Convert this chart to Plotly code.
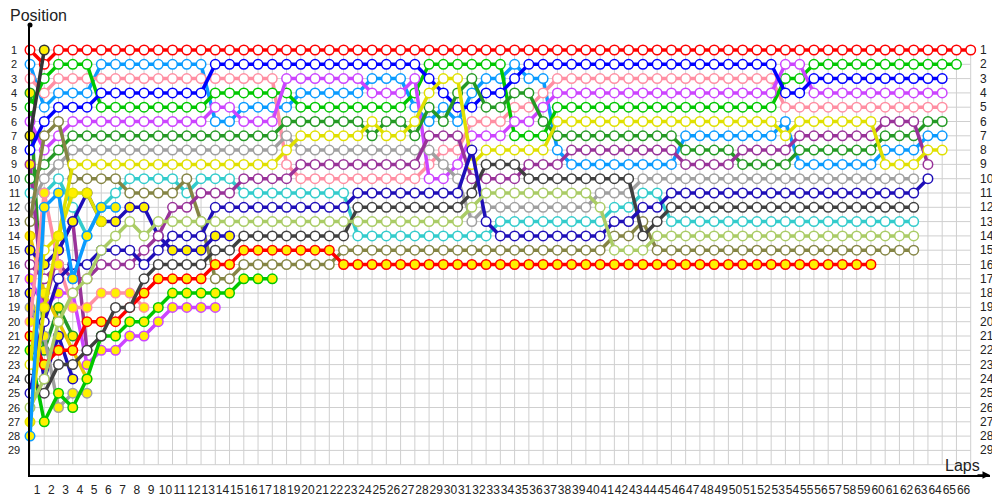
import plotly.graph_objects as go

# ---------------- data (position per lap, index = lap number starting at 0) ----------------
lap_labels = [str(k) for k in range(1, 67)]
position_labels = list(range(1, 30))

red = [1, 2, 1, 1, 1, 1, 1, 1, 1, 1,
       1, 1, 1, 1, 1, 1, 1, 1, 1, 1,
       1, 1, 1, 1, 1, 1, 1, 1, 1, 1,
       1, 1, 1, 1, 1, 1, 1, 1, 1, 1,
       1, 1, 1, 1, 1, 1, 1, 1, 1, 1,
       1, 1, 1, 1, 1, 1, 1, 1, 1, 1,
       1, 1, 1, 1, 1, 1, 1]
light_blue = [2, 5, 4, 4, 4, 2, 2, 2, 2, 2,
              2, 2, 2, 6, 6, 5, 5, 5, 5, 4,
              4, 4, 4, 4, 3, 3, 3, 5, 6, 5,
              6, 4, 3, 3, 2, 3, 3, 8, 9, 9,
              9, 9, 9, 9, 9, 9, 7, 7, 7, 7,
              7, 7, 7, 6, 9, 9, 9, 9, 9, 9,
              8, 8, 8, 7, 7]
pink = [3, 4, 3, 3, 3, 3, 3, 3, 3, 3,
        3, 3, 3, 3, 3, 3, 3, 3, 9, 10,
        10, 10, 10, 10, 10, 10, 10, 10, 9, 8,
        8, 6, 6, 6, 5, 5, 4, 3, 3, 3,
        3, 3, 3, 3, 3, 3, 3, 3, 3, 3,
        3, 3, 3, 5, 5, 5, 5, 5, 5, 5,
        5, 5, 5, 5, 5]
dark_green_y = [4, 22, 19, 21]
green = [5, 3, 2, 2, 2, 5, 5, 5, 5, 5,
         5, 5, 5, 4, 4, 4, 4, 4, 4, 5,
         5, 5, 5, 5, 5, 5, 5, 4, 2, 2,
         2, 2, 2, 2, 7, 7, 7, 5, 5, 5,
         5, 5, 5, 5, 5, 5, 5, 5, 5, 5,
         5, 5, 5, 3, 3, 2, 2, 2, 2, 2,
         2, 2, 2, 2, 2, 2]
magenta = [6, 8, 7, 6, 6, 6, 6, 6, 6, 6,
           6, 6, 6, 5, 5, 6, 6, 6, 3, 3,
           3, 3, 3, 3, 4, 4, 4, 3, 10, 10,
           9, 7, 7, 7, 6, 6, 5, 4, 4, 4,
           4, 4, 4, 4, 4, 4, 4, 4, 4, 4,
           4, 4, 4, 2, 2, 4, 4, 4, 4, 4,
           4, 4, 4, 4, 4]
black_y = [7, 1]
blue = [8, 6, 5, 5, 5, 4, 4, 4, 4, 4,
        4, 4, 4, 2, 2, 2, 2, 2, 2, 2,
        2, 2, 2, 2, 2, 2, 2, 2, 3, 4,
        5, 5, 4, 4, 3, 2, 2, 2, 2, 2,
        2, 2, 2, 2, 2, 2, 2, 2, 2, 2,
        2, 2, 2, 4, 4, 3, 3, 3, 3, 3,
        3, 3, 3, 3, 3]
purple_y = [9, 19, 15, 13, 22]
dark_green = [10, 9, 8, 7, 7, 7, 7, 7, 7, 7,
              7, 7, 7, 7, 7, 7, 7, 7, 6, 6,
              6, 6, 6, 6, 7, 6, 6, 7, 5, 6,
              4, 3, 5, 5, 4, 4, 6, 7, 7, 7,
              7, 7, 7, 7, 7, 7, 8, 8, 8, 8,
              9, 9, 9, 9, 8, 8, 8, 8, 8, 8,
              7, 7, 7, 6, 6]
teal = [11, 11, 10, 12, 14, 12, 11, 10, 10, 10,
        10, 11, 10, 10, 10, 11, 11, 11, 11, 11,
        11, 11, 11, 14, 14, 14, 14, 14, 14, 14,
        14, 14, 14, 13, 13, 13, 13, 13, 13, 13,
        13, 12, 12, 11, 11, 13, 13, 13, 13, 13,
        13, 13, 13, 13, 13, 13, 13, 13, 13, 13,
        13, 13, 13]
gray = [12, 10, 9, 8, 8, 8, 8, 8, 8, 8,
        8, 8, 8, 8, 8, 8, 8, 8, 7, 8,
        8, 8, 8, 8, 8, 8, 8, 8, 8, 9,
        10, 13, 12, 12, 12, 12, 12, 12, 12, 12,
        11, 11, 11, 10, 10, 10, 10, 10, 10, 10,
        10, 10, 10, 10, 10, 10, 10, 10, 10, 10,
        10, 10, 10]
olive = [13, 7, 6, 10, 10, 10, 10, 11, 11, 11,
         11, 10, 13, 17, 17, 16, 16, 16, 16, 16,
         16, 16, 15, 15, 15, 15, 15, 15, 15, 15,
         15, 15, 15, 15, 15, 15, 15, 15, 15, 15,
         15, 14, 14, 13, 15, 15, 15, 15, 15, 15,
         15, 15, 15, 15, 15, 15, 15, 15, 15, 15,
         15, 15, 15]
yellow_y2 = [14, 18, 20, 22, 24]
navy_y = [15, 16, 15, 13, 11, 13, 13, 12, 12, 14, 15, 15, 15, 14, 14]
purple = [16, 17, 16, 17, 17, 16, 16, 16, 15, 14,
          12, 12, 11, 11, 11, 10, 10, 10, 10, 9,
          9, 9, 9, 9, 9, 9, 9, 9, 7, 7,
          7, 10, 10, 10, 10, 9, 9, 9, 8, 8,
          8, 8, 8, 8, 8, 8, 9, 9, 9, 9,
          8, 8, 8, 8, 7, 7, 7, 7, 7, 7,
          6, 6, 6, 9]
magenta_y = [17, 19, 18, 18, 23, 22, 22, 21, 21, 20, 19, 19, 19, 19]
navy_y2 = [18, 24, 21, 24]
gray_y = [19, 21, 26, 25, 25]
pink_y = [20, 11, 16, 19, 19, 18, 18, 18, 19]
red_y = [21, 23, 22, 22, 20, 20, 20, 19, 18, 17,
         17, 17, 17, 16, 16, 15, 15, 15, 15, 15,
         15, 15, 16, 16, 16, 16, 16, 16, 16, 16,
         16, 16, 16, 16, 16, 16, 16, 16, 16, 16,
         16, 16, 16, 16, 16, 16, 16, 16, 16, 16,
         16, 16, 16, 16, 16, 16, 16, 16, 16, 16]
green_y = [22, 27, 25, 26, 24, 21, 21, 20, 20, 19, 18, 18, 18, 18, 18, 17, 17, 17]
yellow = [23, 15, 14, 9, 9, 9, 9, 9, 9, 9,
          9, 9, 9, 9, 9, 9, 9, 9, 8, 7,
          7, 7, 7, 7, 6, 7, 7, 6, 4, 3,
          3, 9, 8, 8, 8, 8, 8, 6, 6, 6,
          6, 6, 6, 6, 6, 6, 6, 6, 6, 6,
          6, 6, 6, 7, 6, 6, 6, 6, 6, 6,
          9, 9, 9, 8, 8]
dark_gray = [24, 25, 23, 23, 22, 21, 19, 19, 17, 16,
             16, 16, 16, 15, 15, 14, 14, 14, 14, 14,
             14, 14, 14, 12, 12, 12, 12, 12, 12, 12,
             12, 11, 9, 9, 9, 10, 10, 10, 10, 10,
             10, 10, 10, 14, 13, 12, 12, 12, 12, 12,
             12, 12, 12, 12, 12, 12, 12, 12, 12, 12,
             12, 12, 12]
navy = [25, 20, 17, 16, 16, 15, 15, 15, 16, 15,
        14, 14, 14, 12, 12, 12, 12, 12, 12, 12,
        12, 12, 12, 11, 11, 11, 11, 11, 11, 11,
        11, 8, 13, 14, 14, 14, 14, 14, 14, 14,
        14, 13, 13, 12, 12, 11, 11, 11, 11, 11,
        11, 11, 11, 11, 11, 11, 11, 11, 11, 11,
        11, 11, 11, 10]
yellow_green = [26, 24, 20, 18, 17, 15, 14, 13, 14, 13,
                13, 13, 13, 13, 13, 13, 13, 13, 13, 13,
                13, 13, 13, 13, 13, 13, 13, 13, 13, 13,
                13, 12, 11, 11, 11, 11, 11, 11, 11, 11,
                12, 15, 15, 15, 14, 14, 14, 14, 14, 14,
                14, 14, 14, 14, 14, 14, 14, 14, 14, 14,
                14, 14, 14]
yellow_y = [27, 19, 14, 11, 11, 13]
light_blue_y = [28, 12, 11, 17, 14, 12, 12]

# driver colours (border/line) and marker fill
YF = "#FFF000"
drivers = [
    (red, "#FF0000", "white"),
    (light_blue, "#0A9BFF", "white"),
    (pink, "#FF8FA3", "white"),
    (dark_green_y, "#259A25", YF),
    (green, "#00C800", "white"),
    (magenta, "#CC44FF", "white"),
    (black_y, "#333333", YF),
    (blue, "#0000FF", "white"),
    (purple_y, "#993399", YF),
    (dark_green, "#259A25", "white"),
    (teal, "#33CCCC", "white"),
    (gray, "#A0A0A0", "white"),
    (olive, "#858545", "white"),
    (yellow_y2, "#E8C800", YF),
    (navy_y, "#1F0FB8", YF),
    (purple, "#993399", "white"),
    (magenta_y, "#CC44FF", YF),
    (navy_y2, "#1F0FB8", YF),
    (gray_y, "#A0A0A0", YF),
    (pink_y, "#FF8FA3", YF),
    (red_y, "#FF0000", YF),
    (green_y, "#00C800", YF),
    (yellow, "#E0E000", "white"),
    (dark_gray, "#404040", "white"),
    (navy, "#1F0FB8", "white"),
    (yellow_green, "#AACC66", "white"),
    (yellow_y, "#E0E000", YF),
    (light_blue_y, "#0A9BFF", YF),
]

# ---------------- figure ----------------
# The page body adds an 8px offset, so the figure is 8px smaller and margins shifted.
PX_PER_LAP = 14.253
PX_PER_POS = 14.3
W, H = 992, 492
L, R, T, B = 22, 10, 17, 25
plot_w = W - L - R          # 960
plot_h = H - T - B          # 450
x_range = [0, plot_w / PX_PER_LAP]
y_top = 1 - (50 - 25) / PX_PER_POS
y_bottom = y_top + plot_h / PX_PER_POS

fig = go.Figure()

n_laps = len(red) - 1
grid_color = "#CFCFCF"
shapes = []
for lap in range(0, n_laps + 1):
    shapes.append(dict(type="line", xref="x", yref="y", x0=lap, x1=lap, y0=1, y1=30,
                       line=dict(color=grid_color, width=1), layer="below"))
for p in range(1, 31):
    shapes.append(dict(type="line", xref="x", yref="y", x0=0, x1=n_laps, y0=p, y1=p,
                       line=dict(color=grid_color, width=1), layer="below"))
# small dot at top of the y axis
shapes.append(dict(type="circle", xref="paper", yref="paper",
                   x0=-2.5 / plot_w, x1=2.5 / plot_w, y0=1 - 2.5 / plot_h, y1=1 + 2.5 / plot_h,
                   fillcolor="black", line=dict(color="black", width=0)))

for pos, color, fill in drivers:
    fig.add_trace(go.Scatter(
        x=list(range(len(pos))), y=pos, mode="lines+markers",
        line=dict(color=color, width=3.5),
        marker=dict(symbol="circle", size=9.5, color=fill, line=dict(color=color, width=1.5)),
        hoverinfo="skip", cliponaxis=False, showlegend=False,
    ))

label_font = dict(family="Liberation Sans", size=12, color="#222222")
annotations = []
for p in position_labels:
    # right-hand position labels
    annotations.append(dict(x=n_laps + 0.5, y=p, xref="x", yref="y", text=str(p),
                            showarrow=False, xanchor="left", yanchor="middle",
                            font=label_font))
    # left-hand position labels (centred in the left margin)
    annotations.append(dict(x=-15.5 / plot_w, y=p, xref="paper", yref="y", text=str(p),
                            showarrow=False, xanchor="center", yanchor="middle",
                            font=dict(family="Liberation Sans", size=11, color="#222222")))
annotations.append(dict(x=-L / plot_w, y=1 + 10 / plot_h, xref="paper", yref="paper",
                        text="Position", showarrow=False, xanchor="left", yanchor="middle",
                        font=dict(family="Liberation Sans", size=16, color="#222222")))
annotations.append(dict(x=(943 - 30) / plot_w, y=10 / plot_h, xref="paper", yref="paper",
                        text="Laps", showarrow=False, xanchor="left", yanchor="middle",
                        font=dict(family="Liberation Sans", size=16, color="#222222")))
# arrow head at the end of the x axis
annotations.append(dict(x=1.0, y=0, xref="paper", yref="paper", ax=-14, ay=0,
                        showarrow=True, arrowhead=2, arrowsize=1, arrowwidth=1.5,
                        arrowcolor="black", text=""))

fig.update_layout(
    width=W, height=H,
    margin=dict(l=L, r=R, t=T, b=B, autoexpand=False),
    plot_bgcolor="white", paper_bgcolor="white",
    showlegend=False,
    shapes=shapes,
    annotations=annotations,
    xaxis=dict(range=x_range, showgrid=False, zeroline=False, showline=True,
               linecolor="black", linewidth=1.5, automargin=False,
               tickmode="array", tickvals=[k - 0.5 for k in range(1, 67)], ticktext=lap_labels,
               ticks="", ticklabelstandoff=3, tickangle=0,
               tickfont=label_font),
    yaxis=dict(range=[y_bottom, y_top], showgrid=False, zeroline=False, showline=True,
               linecolor="black", linewidth=1.5, automargin=False,
               showticklabels=False, ticks=""),
)

fig.write_html("out.html")
